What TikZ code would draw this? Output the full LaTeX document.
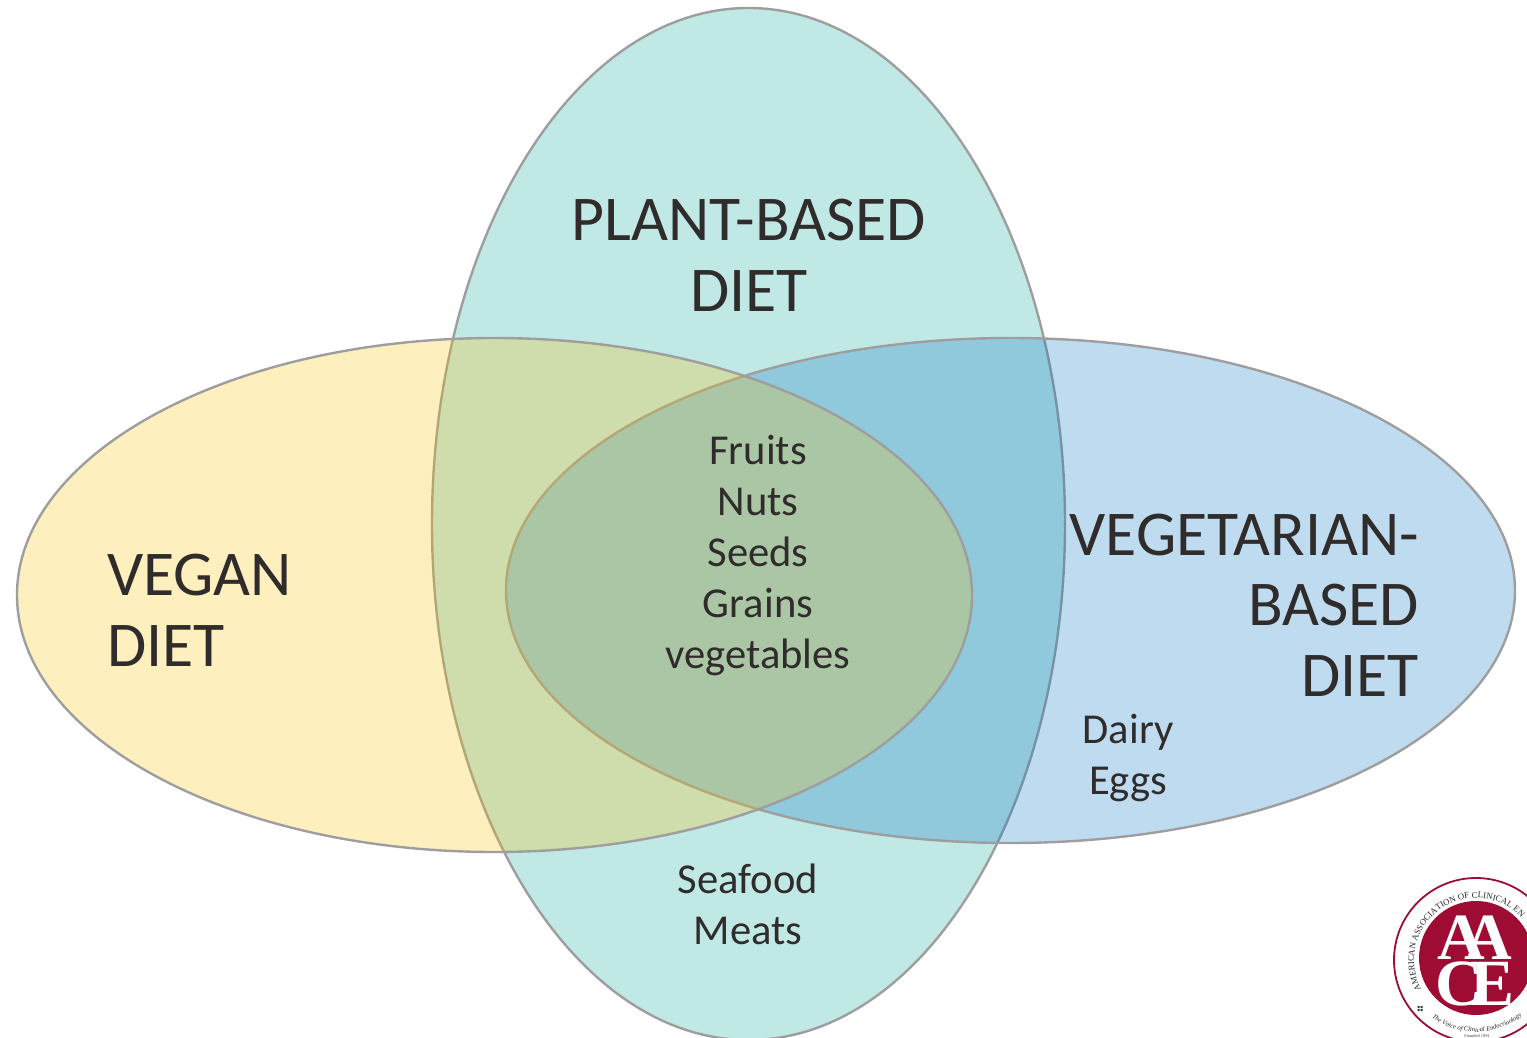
\documentclass[tikz,border=0pt]{standalone}
\usepackage{fontspec}
\setmainfont{Carlito}
\newfontfamily\logoserif{Liberation Serif}
\usetikzlibrary{shapes.geometric,decorations.text}
\definecolor{edgegrey}{HTML}{9E9E9E}
\definecolor{inkdark}{HTML}{302C2C}
\definecolor{aacered}{HTML}{9E0B33}
\tikzset{
  set/.style={ellipse,inner sep=0pt,draw=edgegrey,line width=1.2pt,fill opacity=.25},
  biglabel/.style={text=inkdark,font=\fontsize{31.9}{35.3}\selectfont,inner sep=0pt},
  smalllabel/.style={text=inkdark,font=\fontsize{21.3}{25.5}\selectfont,inner sep=0pt,align=center},
  aaceletter/.style={text=white,inner sep=0pt,font=\logoserif\bfseries\fontsize{33}{33}\selectfont,anchor=base},
}
\begin{document}
\begin{tikzpicture}[x=0.5pt,y=-0.5pt]
\useasboundingbox (0,0) rectangle (1527,1038);
\clip (0,0) rectangle (1527,1038);
\node[set,fill={rgb,255:red,4;green,163;blue,150},minimum width=316.5pt,minimum height=516pt] (plant) at (748.5,524) {};
\node[set,fill={rgb,255:red,0;green,112;blue,192},minimum width=504.5pt,minimum height=252.5pt] (vegetarian) at (1010.5,590.5) {};
\node[set,fill={rgb,255:red,250;green,190;blue,0},minimum width=477.5pt,minimum height=257pt] (vegan) at (494.5,595) {};
\node[biglabel,align=center] (plantlabel) at (749,255) {PLANT-BASED\\DIET};
\node[biglabel,align=left] (veganlabel) at (199.5,610) {VEGAN\\DIET};
\node[biglabel,align=right,anchor=east] (vegetarianlabel) at (1419.5,605) {VEGETARIAN-\\BASED\\DIET};
\node[smalllabel] (common) at (758,556) {Fruits\\Nuts\\Seeds\\Grains\\vegetables};
\node[smalllabel] (dairy) at (1128,758) {Dairy\\Eggs};
\node[smalllabel] (meat) at (748,904) {Seafood\\Meats};
% logo
\fill[white] (1476,960) circle (41pt);
\node[circle,draw=aacered,line width=0.9pt,minimum size=82pt,inner sep=0pt] (logoring) at (1476,960) {};
\node[circle,fill=aacered,minimum size=57pt,inner sep=0pt] (logodisk) at (1476,958) {};
\node[aaceletter] (aa) at (1475,959) {A\kern-10.5pt A};
\node[aaceletter] (ce) at (1475,1005) {C\kern-6.5pt E};
\begin{scope}[shift={(1476,960)},x=0.5pt,y=0.5pt]
\path[decorate,decoration={text along path,text align=left,
  text={|\logoserif\fontsize{4.4}{5}\selectfont\color{black!85}|AMERICAN ASSOCIATION OF CLINICAL EN}}]
  (208:62) arc[start angle=208,end angle=25,radius=62];
\path[decorate,decoration={text along path,text align=center,
  text={|\logoserif\itshape\fontsize{3.3}{4}\selectfont\color{black!85}|The Voice of Clinical Endocrinology}}]
  (232:72) arc[start angle=232,end angle=310,radius=72];
\fill[black!80] (-58.5,-46) rectangle ++(2,-2) (-55.5,-46) rectangle ++(2,-2)
  (-58.5,-49) rectangle ++(2,-2) (-55.5,-49) rectangle ++(2,-2);
\end{scope}
\node[inner sep=0pt,text=black!75,font=\logoserif\fontsize{2.2}{3}\selectfont] (founded) at (1477,1036) {Founded 1991};
\end{tikzpicture}
\end{document}
